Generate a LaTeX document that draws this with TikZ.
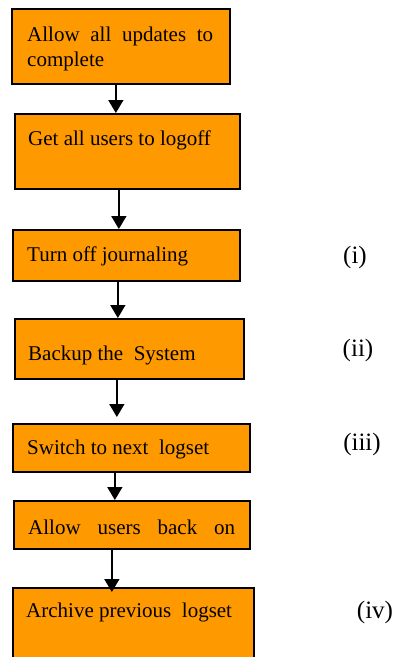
\documentclass[tikz,border=0pt]{standalone}
\usepackage{fontspec}
\setmainfont{Liberation Serif}
\usetikzlibrary{arrows.meta}
\begin{document}
\begin{tikzpicture}[x=1pt,y=-1pt,
  stepbox/.style={draw=black, line width=1.7pt, fill={rgb,255:red,255;green,153;blue,0},
    rectangle, inner sep=0pt, anchor=north west},
  steptext/.style={anchor=west, inner sep=0pt, font=\fontsize{21}{25}\selectfont, align=left},
  tag/.style={inner sep=0pt, font=\fontsize{25}{30}\selectfont},
  arr/.style={line width=1.6pt, -{Triangle[width=15pt,length=13pt]}}]
\useasboundingbox (0,0) rectangle (398,657);
\clip (0,0) rectangle (398,657);

% boxes
\node[stepbox, minimum width=218pt, minimum height=75pt] (b1) at (11,8) {};
\node[stepbox, minimum width=225pt, minimum height=75pt] (b2) at (14,113) {};
\node[stepbox, minimum width=227pt, minimum height=51pt] (b3) at (12,229) {};
\node[stepbox, minimum width=229pt, minimum height=60pt] (b4) at (14,318) {};
\node[stepbox, minimum width=237pt, minimum height=48pt] (b5) at (12,423) {};
\node[stepbox, minimum width=236pt, minimum height=48pt] (b6) at (13,500) {};
\node[stepbox, minimum width=241pt, minimum height=90pt] (b7) at (12,587) {};

% box texts
\node[steptext, anchor=north west] (t1) at (27,27) {\makebox[186pt][s]{Allow all updates to}\\complete};
\node[steptext] (t2) at (28,140) {Get all users to logoff};
\node[steptext] (t3) at (27,256) {Turn off journaling};
\node[steptext] (t4) at (28,355) {Backup the\ \ System};
\node[steptext] (t5) at (27,449) {Switch to next\ \ logset};
\node[steptext] (t6) at (28,527) {\makebox[207pt][s]{Allow users back on}};
\node[steptext] (t7) at (26,612) {Archive previous\ \ logset};

% side labels
\node[tag] (l1) at (355,257) {(i)};
\node[tag] (l2) at (358,350) {(ii)};
\node[tag] (l3) at (362,444) {(iii)};
\node[tag] (l4) at (375,612) {(iv)};

% connectors
\draw[arr] ([xshift=-5pt]b1.south) -- ([xshift=-11.5pt]b2.north);
\draw[arr] ([xshift=-8.5pt]b2.south) -- ([xshift=-7.5pt]b3.north);
\draw[arr] ([xshift=-8.5pt]b3.south) -- ([xshift=-11.5pt]b4.north);
\draw[arr, shorten >=6pt] ([xshift=-12.5pt]b4.south) -- ([xshift=-14.5pt]b5.north);
\draw[arr] ([xshift=-16.5pt]b5.south) -- ([xshift=-17pt]b6.north);
\draw[arr, shorten >=-5pt] ([xshift=-20pt]b6.south) -- ([xshift=-21.5pt]b7.north);
\end{tikzpicture}
\end{document}
